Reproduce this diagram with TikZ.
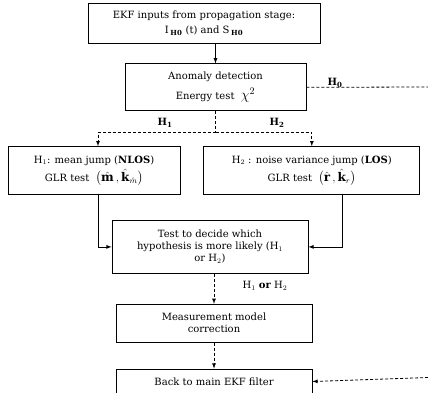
\documentclass[tikz,border=0pt]{standalone}
\usepackage{amsmath}
\usepackage{bm}
\usepackage{fontspec}
\setmainfont{DejaVu Serif}
\usepackage{tikz}
\usetikzlibrary{positioning}

\begin{document}
\begin{tikzpicture}[x=1pt,y=1pt,font=\fontsize{10}{12}\selectfont]
\tikzstyle{box}=[rectangle, draw=black!100, line width=0.8pt, align=center, inner sep=0pt]
\tikzstyle{connect}=[-latex, line width=0.8pt]
\tikzstyle{dline}=[line width=0.8pt, dash pattern=on 3pt off 2pt]
\tikzstyle{dconnect}=[dline, -latex]
\useasboundingbox (0,0) rectangle (428,-392);
  \node[box, minimum width=232pt, minimum height=40pt] (input) at (204,-23) {EKF inputs from propagation stage:\\[3pt] I\,$_{\mathbf{H0}}$ (t) and S\,$_{\mathbf{H0}}$};
  \node[box, minimum width=181pt, minimum height=47pt] (anomaly) [below=20pt of input, xshift=11.5pt] {Anomaly detection\\[5pt] Energy test \ {\Large$\chi^2$}};
  \node[box, minimum width=172pt, minimum height=48pt] (nlos) [below=35pt of anomaly, xshift=-121.5pt] {H$_1$: mean jump (\textbf{NLOS})\\[3pt] GLR test \ {\large$\bigl(\hat{\mathbf m}\,,\hat{\mathbf k}_{\hat m}\bigr)$}};
  \node[box, minimum width=216pt, minimum height=48pt] (los) [right=23pt of nlos] {H$_2$ : noise variance jump (\textbf{LOS})\\[3pt] GLR test \ {\large$\bigl(\hat{\mathbf r}\,,\hat{\mathbf k}_{r}\bigr)$}};
  \node[box, minimum width=196pt, minimum height=53pt] (decide) [below=25pt of nlos, xshift=116pt] {Test to decide which\\ hypothesis is more likely (H$_1$\\ or H$_2$)};
  \node[box, minimum width=196pt, minimum height=38pt] (correct) [below=30pt of decide, xshift=4pt] {Measurement model\\ correction};
  \node[box, minimum width=196pt, minimum height=25pt] (back) [below=26pt of correct] {Back to main EKF filter};
  \coordinate[below=21pt of anomaly] (split);
  \coordinate (h0a) at (428,-87);
  \coordinate (h0b) at (428,-377.5);
  \node (h0) at (335,-83) {$\mathbf{H_0}$};
  \node (h1) at (165,-123) {$\mathbf{H_1}$};
  \node (h2) at (277,-123) {$\mathbf{H_2}$};
  \node (h12) at (265,-286) {H$_1$ \textbf{or} H$_2$};
  \draw[connect] (input.south -| anomaly.north) -- (anomaly.north);
  \draw[dline] (anomaly.south) -- (split);
  \draw[dconnect] (split) -| ([xshift=4pt]nlos.north);
  \draw[dconnect] (split) -| (los.north);
  \draw[dline] (anomaly.east) -- (h0a);
  \draw[connect] ([xshift=4pt]nlos.south) |- (decide.west);
  \draw[connect] ([xshift=31pt]los.south) |- (decide.east);
  \draw[dconnect] (decide.south -| correct.north) -- (correct.north);
  \draw[dconnect] (correct) -- (back);
  \draw[dconnect] (h0b) -- (back.east);
\end{tikzpicture}
\end{document}
